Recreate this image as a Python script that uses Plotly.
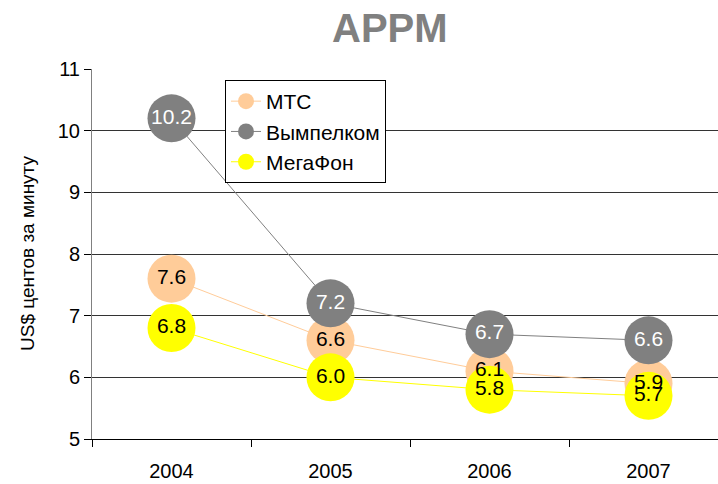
import plotly.graph_objects as go

# ── data ────────────────────────────────────────────────────────────────
years = ["2004", "2005", "2006", "2007"]
mts = [7.6, 6.6, 6.1, 5.9]
vimpelcom = [10.2, 7.2, 6.7, 6.6]
megafon = [6.8, 6.0, 5.8, 5.7]

series = [
    ("МТС", mts, "#FFCC99", "#000000"),
    ("Вымпелком", vimpelcom, "#808080", "#FFFFFF"),
    ("МегаФон", megafon, "#FFFF00", "#000000"),
]

FONT = "Liberation Sans, Arial, sans-serif"
xpos = list(range(len(years)))

fig = go.Figure()

# markers + lines first, so every data label ends up on top (as in Excel)
for name, vals, color, _ in series:
    fig.add_trace(
        go.Scatter(
            x=xpos,
            y=vals,
            name=name,
            mode="lines+markers",
            line=dict(color=color, width=1),
            marker=dict(size=48, color=color, line=dict(width=0)),
        )
    )

for name, vals, _, txt_color in series:
    fig.add_trace(
        go.Scatter(
            x=xpos,
            y=vals,
            mode="text",
            text=[f"{v:.1f}" for v in vals],
            textposition="middle center",
            textfont=dict(family=FONT, size=21, color=txt_color),
            showlegend=False,
            hoverinfo="skip",
        )
    )

fig.update_layout(
    width=718,
    height=484,
    margin=dict(l=92, r=0, t=69, b=45),
    paper_bgcolor="white",
    plot_bgcolor="white",
    font=dict(family=FONT, size=20, color="#000000"),
    showlegend=True,
    legend=dict(
        x=(225 - 92) / 626,
        y=(439 - 80) / 370,
        xanchor="left",
        yanchor="top",
        bgcolor="white",
        bordercolor="#000000",
        borderwidth=1,
        font=dict(family=FONT, size=21, color="#000000"),
        itemwidth=30,
        tracegroupgap=0,
    ),
    xaxis=dict(
        range=[-0.5, -0.5 + 626 / 159],
        tickvals=xpos,
        ticktext=years,
        ticks="",
        ticklabelstandoff=14,
        showgrid=False,
        zeroline=False,
        showline=True,
        linecolor="#000000",
        linewidth=1,
        minor=dict(
            tickvals=[-0.5, 0.5, 1.5, 2.5],
            ticks="outside",
            ticklen=7,
            tickcolor="#000000",
            showgrid=False,
        ),
        tickfont=dict(family=FONT, size=20, color="#000000"),
    ),
    yaxis=dict(
        range=[5, 11],
        dtick=1,
        ticks="outside",
        ticklen=7,
        tickcolor="#000000",
        showgrid=True,
        gridcolor="#333333",
        gridwidth=1,
        zeroline=False,
        showline=True,
        linecolor="#808080",
        linewidth=1,
        tickfont=dict(family=FONT, size=20, color="#000000"),
    ),
    annotations=[
        dict(
            text="<b>APPM</b>",
            xref="paper",
            yref="paper",
            x=(390 - 92) / 626,
            y=1 + (69 - 28) / 370,
            xanchor="center",
            yanchor="middle",
            showarrow=False,
            font=dict(family=FONT, size=40, color="#808080"),
        ),
        dict(
            text="US$ центов за минуту",
            xref="paper",
            yref="paper",
            x=(27 - 92) / 626,
            y=(439 - 253) / 370,
            xanchor="center",
            yanchor="middle",
            textangle=-90,
            showarrow=False,
            font=dict(family=FONT, size=19, color="#000000"),
        ),
    ],
)

# drop the browser's default body margin so the figure sits at the page corner
fig.write_html(
    "out.html",
    config={"displayModeBar": False},
    post_script="document.body.style.margin='0';",
)
